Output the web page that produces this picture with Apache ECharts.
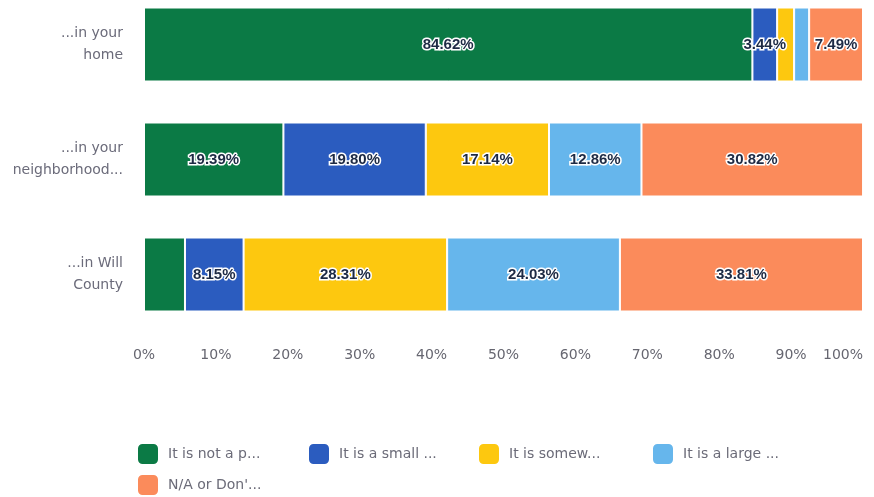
<!DOCTYPE html>
<html>
<head>
<meta charset="utf-8">
<script src="https://cdn.jsdelivr.net/npm/echarts@6/dist/echarts.min.js"></script>
<style>
  html, body { margin: 0; padding: 0; background: #fff; }
  #chart { width: 874px; height: 497px; }
</style>
</head>
<body>
<div id="chart"></div>
<script>
// categories (top to bottom)
const categories = ['...in your\nhome', '...in your\nneighborhood...', '...in Will\nCounty']
const seriesNames = ['It is not a p...', 'It is a small ...', 'It is somew...', 'It is a large ...', "N/A or Don'..."]
const colors = ['#0b7a45', '#2b5cbf', '#fdc80f', '#66b6ec', '#fb8b5b']
// percent values per series, one per category
const notProblem = [84.62, 19.39, 5.70]
const smallProblem = [3.44, 19.80, 8.15]
const somewhatProblem = [2.36, 17.14, 28.31]
const largeProblem = [2.09, 12.86, 24.03]
const naDontKnow = [7.49, 30.82, 33.81]
const xTicks = [0, 10, 20, 30, 40, 50, 60, 70, 80, 90, 100]
// labels that are not printed on the bars [series][category]
const hiddenLabels = [[false, false, true], [false, false, false], [true, false, false], [true, false, false], [false, false, false]]

const values = [notProblem, smallProblem, somewhatProblem, largeProblem, naDontKnow]

// legend item spots (left, top)
const legendLeft = [136, 307, 477, 651, 136]
const legendTop = [442, 442, 442, 442, 473]

const chart = echarts.init(document.getElementById('chart'))

const series = values.map((vals, i) => ({
  name: seriesNames[i],
  type: 'bar',
  stack: 'total',
  barWidth: 74,
  itemStyle: { color: colors[i], borderColor: '#fff', borderWidth: 1 },
  label: {
    show: true,
    position: 'inside',
    formatter: p => p.value.toFixed(2) + '%',
    color: '#1d2a44',
    fontFamily: 'Liberation Sans',
    fontWeight: 'bold',
    fontSize: 15,
    textBorderColor: '#fff',
    textBorderWidth: 3
  },
  data: vals.map((v, j) => hiddenLabels[i][j] ? { value: v, label: { show: false } } : v)
}))

const legends = seriesNames.map((name, i) => ({
  data: [name],
  left: legendLeft[i],
  top: legendTop[i],
  padding: 0,
  itemWidth: 22,
  itemHeight: 22,
  icon: 'roundRect',
  textStyle: { color: '#6b6b78', fontSize: 14, fontFamily: 'DejaVu Sans', padding: [0, 0, 0, 4] }
}))

chart.setOption({
  color: colors,
  animation: false,
  textStyle: { fontFamily: 'DejaVu Sans' },
  legend: legends,
  grid: { left: 144, right: 11, top: -13, bottom: 165, outerBoundsMode: 'none', containLabel: false },
  xAxis: {
    type: 'value',
    min: 0,
    max: 100,
    interval: 10,
    axisLine: { show: false },
    axisTick: { show: false },
    splitLine: { show: false },
    axisLabel: {
      color: '#666670',
      fontSize: 14,
      margin: 16,
      alignMaxLabel: 'right',
      formatter: v => xTicks.includes(v) ? v + '%' : ''
    }
  },
  yAxis: {
    type: 'category',
    inverse: true,
    data: categories,
    axisLine: { show: false },
    axisTick: { show: false },
    axisLabel: {
      color: '#6b6b7a',
      fontSize: 14,
      lineHeight: 22,
      margin: 21,
      align: 'right'
    }
  },
  series: series
})
</script>
</body>
</html>
